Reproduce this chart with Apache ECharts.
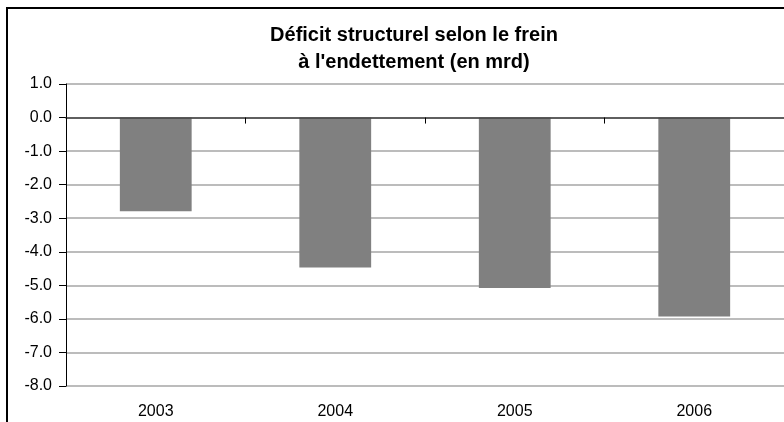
<!DOCTYPE html>
<html>
<head>
<meta charset="utf-8">
<script src="https://cdn.jsdelivr.net/npm/echarts@6/dist/echarts.min.js"></script>
<style>html,body{margin:0;padding:0;background:#fff}#c{width:784px;height:422px}</style>
</head>
<body>
<div id="c"></div>
<script>
var categories = ['2003', '2004', '2005', '2006'];
var values = [-2.79, -4.47, -5.08, -5.93];
var titleText = "Déficit structurel selon le frein\nà l'endettement (en mrd)";
var F = '"Liberation Sans", Arial, sans-serif';

var chart = echarts.init(document.getElementById('c'));
chart.setOption({
  animation: false,
  backgroundColor: '#fff',
  title: {
    text: titleText,
    left: 409, top: 17, textAlign: 'center',
    textStyle: {fontFamily: F, fontSize: 20, fontWeight: 'bold', color: '#000', lineHeight: 27}
  },
  graphic: [{
    type: 'rect', shape: {x: 7, y: 8, width: 800, height: 440},
    style: {fill: 'none', stroke: '#000', lineWidth: 2}, z: 100
  }],
  grid: {left: 66, top: 84, right: 0, bottom: 36, containLabel: false},
  xAxis: [{
    type: 'category', data: categories, boundaryGap: true,
    axisLine: {onZero: true, lineStyle: {color: '#404040', width: 1.5}},
    axisTick: {show: true, alignWithLabel: false, length: 6, lineStyle: {color: '#000'}},
    axisLabel: {show: false}, splitLine: {show: false}, z: 5
  }, {
    type: 'category', data: categories, position: 'bottom', boundaryGap: true,
    axisLine: {show: false}, axisTick: {show: false},
    axisLabel: {show: true, margin: 18, fontFamily: F, fontSize: 16, color: '#000'}
  }],
  yAxis: {
    type: 'value', min: -8, max: 1, interval: 1,
    axisLine: {show: true, lineStyle: {color: '#000', width: 1}},
    axisTick: {show: true, length: 7, lineStyle: {color: '#000'}},
    axisLabel: {margin: 14, fontFamily: F, fontSize: 16, color: '#000',
      formatter: function (v) { return v.toFixed(1); }},
    splitLine: {show: true, lineStyle: {color: '#a6a6a6', width: 1.5}}
  },
  series: [{
    type: 'bar', data: values, xAxisIndex: 0, barWidth: '40%',
    itemStyle: {color: '#808080'}
  }]
});
</script>
</body>
</html>
